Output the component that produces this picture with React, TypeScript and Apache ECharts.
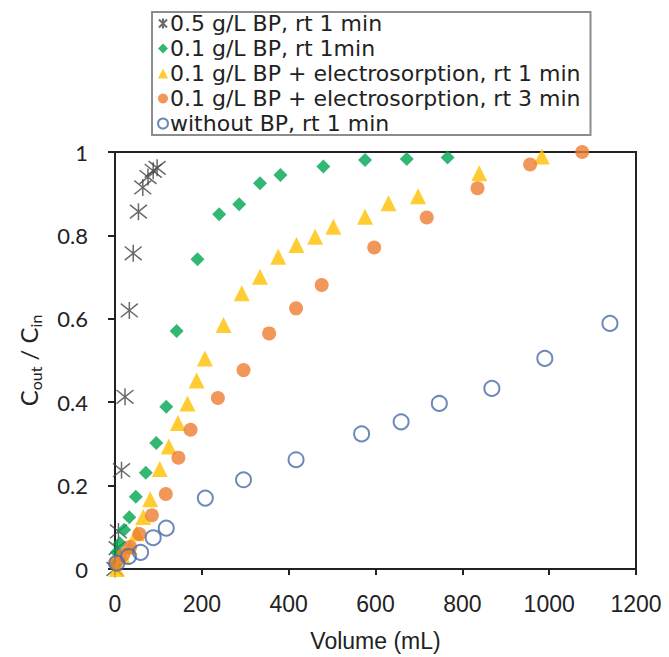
import React, { useEffect, useRef } from "react";
import * as echarts from "echarts";

const legendNames = [
  "0.5 g/L BP, rt 1 min",
  "0.1 g/L BP, rt 1min",
  "0.1 g/L BP + electrosorption, rt 1 min",
  "0.1 g/L BP + electrosorption, rt 3 min",
  "without BP, rt 1 min",
];

const xTicks = [0, 200, 400, 600, 800, 1000, 1200];
const yTicks = [0, 0.2, 0.4, 0.6, 0.8, 1];

const bp05rt1: number[][] = [
  [0, 0.0], [5, 0.05], [8, 0.09], [15, 0.237], [23, 0.413], [33, 0.62], [42, 0.757],
  [54, 0.857], [64, 0.915], [76, 0.94], [88, 0.955], [97, 0.962],
];

const bp01rt1: number[][] = [
  [0, 0.01], [4, 0.04], [11, 0.062], [21, 0.094], [33, 0.124], [48, 0.173], [71, 0.231],
  [95, 0.302], [118, 0.389], [142, 0.571], [190, 0.743], [240, 0.851], [286, 0.875],
  [334, 0.925], [381, 0.945], [480, 0.965], [576, 0.981], [672, 0.983], [766, 0.987],
];

const bp01elRt1: number[][] = [
  [4, 0.0], [18, 0.03], [34, 0.053], [50, 0.086], [65, 0.125], [81, 0.167], [103, 0.24],
  [124, 0.294], [145, 0.35], [167, 0.397], [188, 0.452], [207, 0.505], [250, 0.585],
  [292, 0.661], [334, 0.701], [376, 0.749], [418, 0.777], [461, 0.797], [503, 0.821],
  [576, 0.845], [630, 0.877], [698, 0.894], [839, 0.949], [983, 0.989],
];

const bp01elRt3: number[][] = [
  [2, 0.014], [19, 0.034], [35, 0.053], [56, 0.084], [85, 0.129], [117, 0.18], [146, 0.267],
  [174, 0.334], [237, 0.41], [296, 0.477], [355, 0.565], [417, 0.625], [476, 0.681],
  [597, 0.771], [718, 0.843], [835, 0.913], [956, 0.97], [1076, 1.0],
];

const noBpRt1: number[][] = [
  [4, 0.014], [31, 0.03], [59, 0.04], [88, 0.075], [118, 0.098], [208, 0.17], [296, 0.214],
  [417, 0.262], [568, 0.324], [659, 0.353], [747, 0.397], [868, 0.433], [990, 0.505],
  [1140, 0.589],
];

const STAR = "path://M0,-10L0,10M-8,-8L8,8M-8,8L8,-8";

export default function App() {
  const ref = useRef<HTMLDivElement>(null);
  useEffect(() => {
    if (!ref.current) return;
    const chart = echarts.init(ref.current, null, { renderer: "svg" });
    const axisFont = "Liberation Sans";
    const yFont = "Lato";
    chart.setOption({
      animation: false,
      backgroundColor: "#ffffff",
      legend: {
        orient: "vertical",
        left: 152,
        top: 12,
        padding: [0, 10, 0, 5],
        itemGap: 2,
        itemWidth: 10,
        itemHeight: 10,
        borderColor: "#8c8c8c",
        borderWidth: 2,
        data: legendNames,
        textStyle: {
          fontFamily: "DejaVu Sans",
          fontSize: 22,
          lineHeight: 23,
          color: "#222",
          padding: [0, 0, 0, -3],
        },
      },
      grid: {
        left: 115,
        right: 33,
        top: 152,
        bottom: 88,
        show: true,
        borderColor: "#222",
        borderWidth: 2,
        backgroundColor: "transparent",
      },
      xAxis: {
        type: "value",
        min: 0,
        max: 1200,
        interval: 200,
        name: "Volume (mL)",
        nameLocation: "middle",
        nameGap: 60,
        nameTextStyle: { fontFamily: axisFont, fontSize: 23, color: "#222" },
        axisLine: { show: true, lineStyle: { color: "#222", width: 2 } },
        axisTick: { show: true, inside: false, length: 6, lineStyle: { color: "#222", width: 2 } },
        axisLabel: {
          margin: 23,
          fontFamily: axisFont,
          fontSize: 23,
          color: "#222",
          formatter: (v: number) => (xTicks.includes(v) ? String(v) : ""),
        },
        splitLine: { show: false },
      },
      yAxis: {
        type: "value",
        min: 0,
        max: 1,
        interval: 0.2,
        name: "{n|C}{s|out}{n| / C}{s|in}",
        nameLocation: "middle",
        nameGap: 72,
        nameRotate: 90,
        nameTextStyle: {
          rich: {
            n: { fontFamily: yFont, fontSize: 24, color: "#222", lineHeight: 30, verticalAlign: "middle" },
            s: { fontFamily: yFont, fontSize: 16, color: "#222", lineHeight: 14, verticalAlign: "bottom" },
          },
        },
        axisLine: { show: true, lineStyle: { color: "#222", width: 2 } },
        axisTick: { show: true, inside: false, length: 7, lineStyle: { color: "#222", width: 2 } },
        axisLabel: {
          margin: 27,
          fontFamily: yFont,
          fontSize: 22,
          color: "#222",
          formatter: (v: number) => {
            const t = yTicks.find((y) => Math.abs(y - v) < 1e-9);
            return t === undefined ? "" : String(t);
          },
        },
        splitLine: { show: false },
      },
      series: [
        {
          name: legendNames[0],
          type: "scatter",
          data: bp05rt1,
          symbol: STAR,
          symbolSize: 17,
          itemStyle: { color: "transparent", borderColor: "#454545", borderWidth: 1.5 },
        },
        {
          name: legendNames[1],
          type: "scatter",
          data: bp01rt1,
          symbol: "diamond",
          symbolSize: 14,
          itemStyle: { color: "#00A651" },
        },
        {
          name: legendNames[2],
          type: "scatter",
          data: bp01elRt1,
          symbol: "triangle",
          symbolSize: 16,
          itemStyle: { color: "#FFC000" },
        },
        {
          name: legendNames[3],
          type: "scatter",
          data: bp01elRt3,
          symbol: "circle",
          symbolSize: 14,
          itemStyle: { color: "#ED7D31" },
        },
        {
          name: legendNames[4],
          type: "scatter",
          data: noBpRt1,
          symbol: "circle",
          symbolSize: 15,
          itemStyle: { color: "transparent", borderColor: "#4A6BA8", borderWidth: 2 },
        },
      ],
    });
    return () => chart.dispose();
  }, []);
  return <div ref={ref} style={{ width: 669, height: 657, position: "absolute", left: 0, top: 0 }} />;
}
